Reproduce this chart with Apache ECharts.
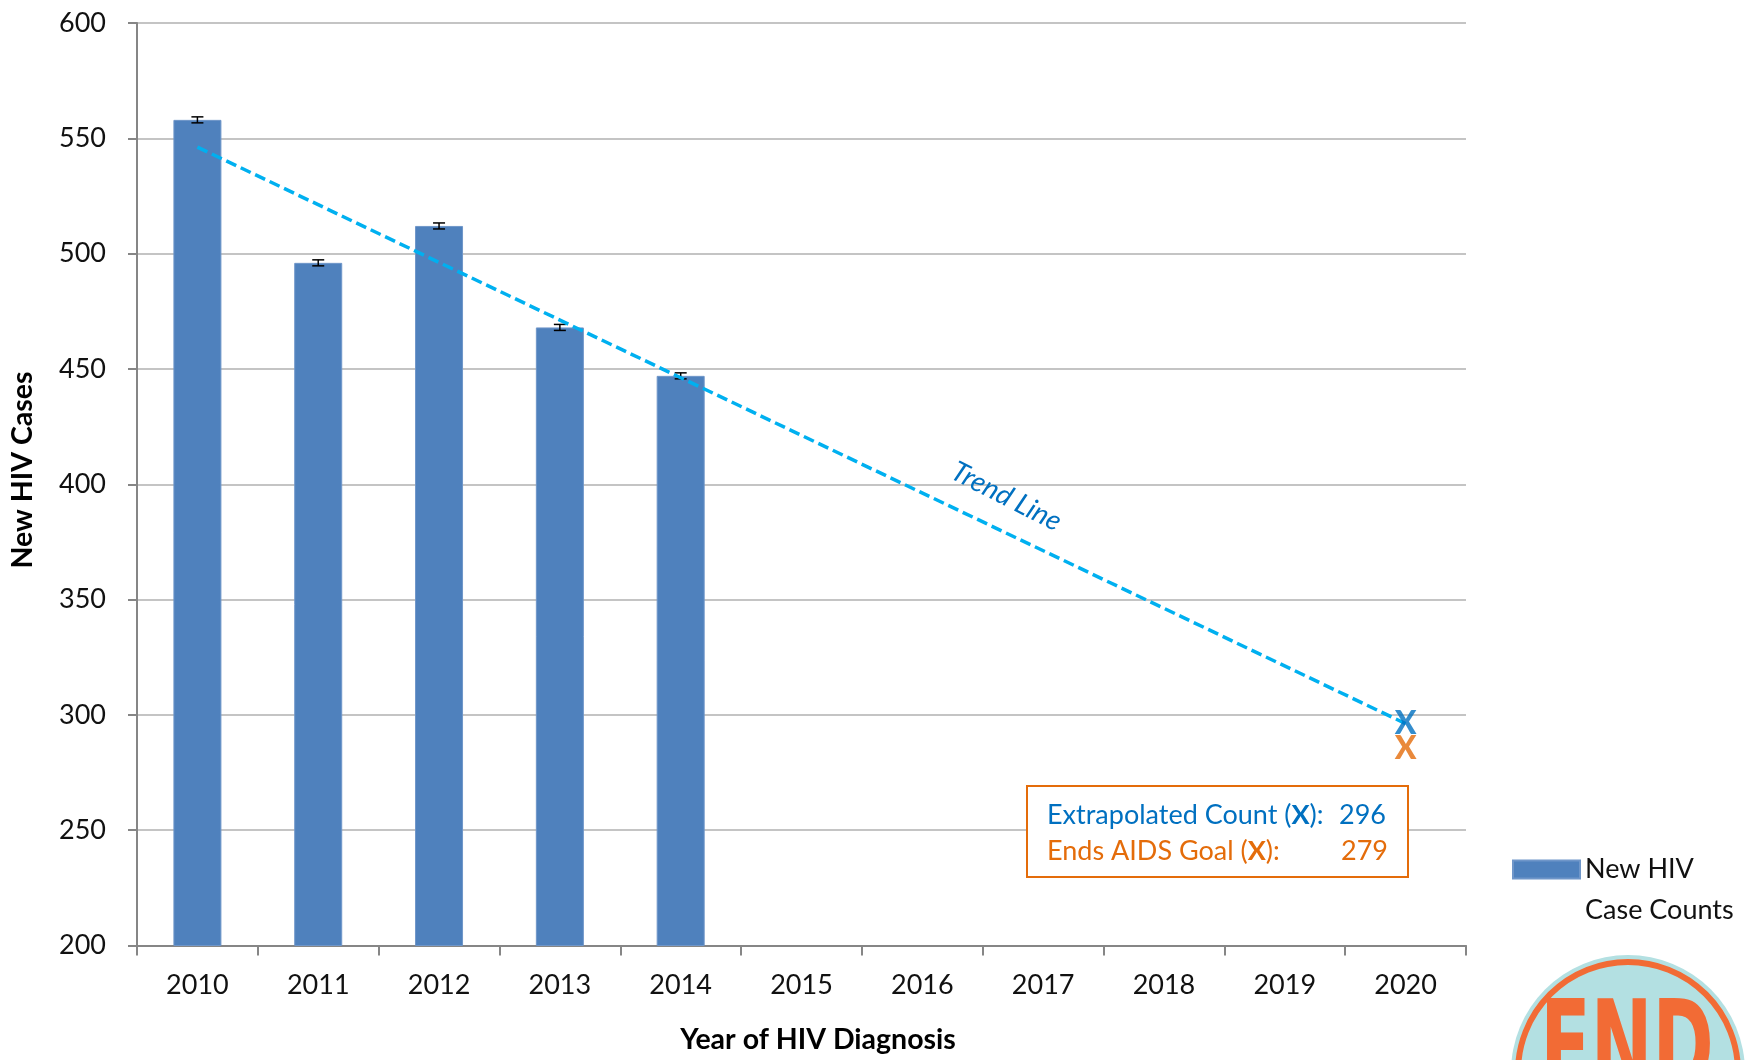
<!DOCTYPE html>
<html>
<head>
<meta charset="utf-8">
<script src="https://cdn.jsdelivr.net/npm/echarts@6/dist/echarts.min.js"></script>
<style>
html,body{margin:0;padding:0;background:#fff;}
#chart{width:1748px;height:1060px;}
</style>
</head>
<body>
<div id="chart"></div>
<script>
// ---- data ----
var years = ['2010','2011','2012','2013','2014','2015','2016','2017','2018','2019','2020'];
var caseCounts = [558, 496, 512, 468, 447, null, null, null, null, null, null];
var errorMargins = [1.3, 1.3, 1.3, 1.3, 1.3];
var trendLine = [546.2, null, null, null, null, null, null, null, null, null, 296.2];
var extrapolatedCount = [296];
var endsAidsGoal = [279];
var yTicks = [200, 250, 300, 350, 400, 450, 500, 550, 600];

var FONT = 'Lato, "Open Sans", sans-serif';
var chart = echarts.init(document.getElementById('chart'));

var errData = [];
for (var i = 0; i < errorMargins.length; i++) {
  errData.push([i, caseCounts[i] - errorMargins[i], caseCounts[i] + errorMargins[i]]);
}
var xMarkData = years.map(function (y, i) { return i === years.length - 1 ? extrapolatedCount[0] : null; });
var goalMarkData = years.map(function (y, i) { return i === years.length - 1 ? endsAidsGoal[0] : null; });

var option = {
  animation: false,
  backgroundColor: '#fff',
  grid: { left: 137, right: 282, top: 23, bottom: 114.5, containLabel: false },
  legend: {
    data: ['New HIV Case Counts'],
    left: 1512, top: 849, padding: 0,
    orient: 'vertical',
    icon: 'path://M0,0L67,0L67,18L0,18Z M0,59',
    itemWidth: 67, itemHeight: 59, itemGap: 0,
    formatter: function () { return 'New HIV\nCase Counts'; },
    textStyle: { fontFamily: FONT, fontSize: 27, color: '#111', lineHeight: 41 }
  },
  xAxis: {
    type: 'category',
    data: years,
    axisLine: { lineStyle: { color: '#868686', width: 2 } },
    axisTick: { show: true, length: 10, lineStyle: { color: '#868686', width: 2 } },
    axisLabel: { fontFamily: FONT, fontSize: 27, color: '#111', margin: 26 },
    splitLine: { show: false }
  },
  yAxis: {
    type: 'value',
    min: yTicks[0], max: yTicks[yTicks.length - 1], interval: 50,
    axisLine: { show: true, lineStyle: { color: '#868686', width: 2 } },
    axisTick: { show: true, length: 9, lineStyle: { color: '#868686', width: 2 } },
    axisLabel: { fontFamily: FONT, fontSize: 27, color: '#111', margin: 31 },
    splitLine: { lineStyle: { color: '#C4C4C4', width: 2 } }
  },
  series: [
    {
      name: 'New HIV Case Counts',
      type: 'bar',
      data: caseCounts,
      barWidth: 48,
      itemStyle: { color: '#4F81BD', borderColor: '#6F96C9', borderWidth: 1 },
      z: 2
    },
    {
      name: 'errors',
      type: 'custom',
      data: errData,
      z: 4,
      renderItem: function (params, api) {
        var x = api.value(0);
        var lo = api.coord([x, api.value(1)]);
        var hi = api.coord([x, api.value(2)]);
        var hw = 6;
        var st = { stroke: '#000', lineWidth: 1.5 };
        return {
          type: 'group',
          children: [
            { type: 'line', shape: { x1: lo[0], y1: lo[1], x2: hi[0], y2: hi[1] }, style: st },
            { type: 'line', shape: { x1: lo[0] - hw, y1: lo[1], x2: lo[0] + hw, y2: lo[1] }, style: st },
            { type: 'line', shape: { x1: hi[0] - hw, y1: hi[1], x2: hi[0] + hw, y2: hi[1] }, style: st }
          ]
        };
      }
    },
    {
      name: 'Trend Line',
      type: 'line',
      data: trendLine,
      connectNulls: true,
      symbol: 'none',
      lineStyle: { color: '#00B0F0', width: 3.5, type: [11, 5] },
      z: 5
    },
    {
      name: 'Extrapolated',
      type: 'scatter',
      data: xMarkData,
      symbolSize: 0,
      z: 6,
      label: { show: true, position: 'inside', formatter: 'X', fontFamily: FONT, fontWeight: 900, fontSize: 32, color: '#0070C0' }
    },
    {
      name: 'Goal',
      type: 'scatter',
      data: goalMarkData,
      symbolSize: 0,
      z: 6,
      label: { show: true, position: 'inside', formatter: 'X', offset: [0, -15], fontFamily: FONT, fontWeight: 900, fontSize: 32, color: '#E46C0A' }
    }
  ],
  graphic: [
    { type: 'text', z: 100, x: 23, y: 470, rotation: Math.PI / 2,
      style: { text: 'New HIV Cases', fontFamily: FONT, fontWeight: 'bold', fontSize: 28.5, fill: '#000', align: 'center', verticalAlign: 'middle' } },
    { type: 'text', z: 100, x: 818, y: 1040,
      style: { text: 'Year of HIV Diagnosis', fontFamily: FONT, fontWeight: 'bold', fontSize: 28.5, fill: '#000', align: 'center', verticalAlign: 'middle' } },
    { type: 'text', z: 100, x: 1000, y: 509, rotation: -0.47,
      style: { text: 'Trend Line', fontFamily: FONT, fontStyle: 'italic', fontSize: 28, fill: '#0070C0', align: 'center', verticalAlign: 'bottom' } },
    { type: 'rect', z: 100, shape: { x: 1027, y: 786, width: 381, height: 91 },
      style: { fill: '#fff', stroke: '#E46C0A', lineWidth: 2 } },
    { type: 'text', z: 101, x: 1047, y: 815,
      style: { text: '{a|Extrapolated Count (}{b|X}{a|):}', verticalAlign: 'middle', align: 'left',
        rich: { a: { fontFamily: FONT, fontSize: 27, fill: '#0070C0', color: '#0070C0' }, b: { fontFamily: FONT, fontSize: 27, fontWeight: 'bold', fill: '#0070C0', color: '#0070C0' } } } },
    { type: 'text', z: 101, x: 1386, y: 815,
      style: { text: String(extrapolatedCount[0]), fontFamily: FONT, fontSize: 27, fill: '#0070C0', align: 'right', verticalAlign: 'middle' } },
    { type: 'text', z: 101, x: 1047, y: 851,
      style: { text: '{a|Ends AIDS Goal (}{b|X}{a|):}', verticalAlign: 'middle', align: 'left',
        rich: { a: { fontFamily: FONT, fontSize: 27, fill: '#E46C0A', color: '#E46C0A' }, b: { fontFamily: FONT, fontSize: 27, fontWeight: 'bold', fill: '#E46C0A', color: '#E46C0A' } } } },
    { type: 'text', z: 101, x: 1388, y: 851,
      style: { text: String(endsAidsGoal[0]), fontFamily: FONT, fontSize: 27, fill: '#E46C0A', align: 'right', verticalAlign: 'middle' } },
    { type: 'circle', z: 100, shape: { cx: 1628, cy: 1072, r: 117 }, style: { fill: '#B3E0E2' } },
    { type: 'circle', z: 101, shape: { cx: 1628, cy: 1072, r: 110 }, style: { fill: 'none', stroke: '#F26B35', lineWidth: 6 } },
    { type: 'text', z: 102, x: 1627, y: 995, scaleY: 1.5,
      style: { text: 'END', fontFamily: '"Liberation Sans Narrow", "DejaVu Sans Condensed", sans-serif', fontWeight: 'bold', fontSize: 82, fill: '#F26B35', align: 'center', verticalAlign: 'top' } }
  ]
};
chart.setOption(option);
</script>
</body>
</html>
